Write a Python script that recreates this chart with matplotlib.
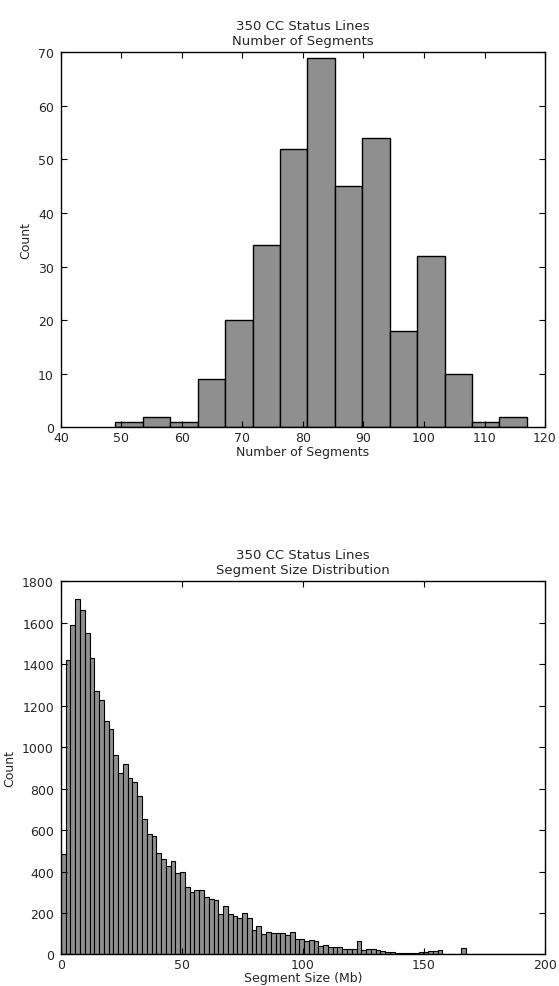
import numpy as np
import matplotlib
matplotlib.use("Agg")
import matplotlib.pyplot as plt

# top histogram: number of segments per status line (15 bins, 49..117)
seg_lo, seg_hi = 49, 117
seg_counts = [1, 2, 1, 9, 20, 34, 52, 69, 45, 54, 18, 32, 10, 1, 2]

# bottom histogram: segment sizes in Mb (100 bins, 0..197)
size_lo, size_hi = 0, 197
size_counts = [
    483, 1421, 1590, 1717, 1661, 1550, 1432, 1270, 1226, 1125,
    1086, 960, 875, 920, 851, 834, 765, 654, 581, 570,
    488, 461, 427, 453, 392, 400, 327, 302, 313, 310,
    277, 265, 261, 197, 232, 194, 184, 174, 202, 174,
    116, 139, 100, 108, 102, 102, 102, 92, 108, 73,
    73, 66, 69, 66, 40, 44, 34, 34, 34, 27,
    27, 27, 63, 21, 24, 27, 20, 15, 10, 10,
    8, 8, 8, 6, 8, 10, 12, 15, 18, 22,
    4, 4, 4, 4, 30, 0, 0, 0, 3, 0,
    0, 0, 3, 0, 0, 0, 0, 0, 0, 3,
]

txt = '#262626'
plt.rcParams['font.family'] = 'DejaVu Sans'
plt.rcParams['font.size'] = 9
plt.rcParams['text.color'] = txt
plt.rcParams['axes.labelcolor'] = txt
plt.rcParams['xtick.labelcolor'] = txt
plt.rcParams['ytick.labelcolor'] = txt
plt.rcParams['xtick.direction'] = 'in'
plt.rcParams['ytick.direction'] = 'in'
plt.rcParams['xtick.top'] = True
plt.rcParams['ytick.right'] = True
plt.rcParams['xtick.major.size'] = 4
plt.rcParams['ytick.major.size'] = 4
plt.rcParams['xtick.major.pad'] = 2.5
plt.rcParams['ytick.major.pad'] = 5
plt.rcParams['axes.linewidth'] = 1.0

fig = plt.figure(figsize=(5.59, 9.87), dpi=100)
ax1 = fig.add_axes([0.109, 0.566, 0.866, 0.380])
ax2 = fig.add_axes([0.109, 0.032, 0.866, 0.378])

bar_color = '#8f8f8f'

# top
edges1 = np.linspace(seg_lo, seg_hi, len(seg_counts) + 1)
mids1 = (edges1[:-1] + edges1[1:]) / 2
ax1.hist(mids1, bins=edges1, weights=seg_counts, color=bar_color,
         edgecolor='black', linewidth=1.0)
ax1.set_xlim(40, 120)
ax1.set_ylim(0, 70)
ax1.set_xticks(np.arange(40, 121, 10))
ax1.set_yticks(np.arange(0, 71, 10))
ax1.set_title('350 CC Status Lines\nNumber of Segments', fontsize=9.5)
ax1.set_xlabel('Number of Segments', labelpad=1)
ax1.set_ylabel('Count')

# bottom
edges2 = np.linspace(size_lo, size_hi, len(size_counts) + 1)
mids2 = (edges2[:-1] + edges2[1:]) / 2
ax2.hist(mids2, bins=edges2, weights=size_counts, color=bar_color,
         edgecolor='black', linewidth=0.8)
ax2.set_xlim(0, 200)
ax2.set_ylim(0, 1800)
ax2.set_xticks(np.arange(0, 201, 50))
ax2.set_yticks(np.arange(0, 1801, 200))
ax2.set_title('350 CC Status Lines\nSegment Size Distribution', fontsize=9.5)
ax2.set_xlabel('Segment Size (Mb)', labelpad=0)
ax2.set_ylabel('Count')

fig.savefig('out.png', dpi=100, facecolor='white')
